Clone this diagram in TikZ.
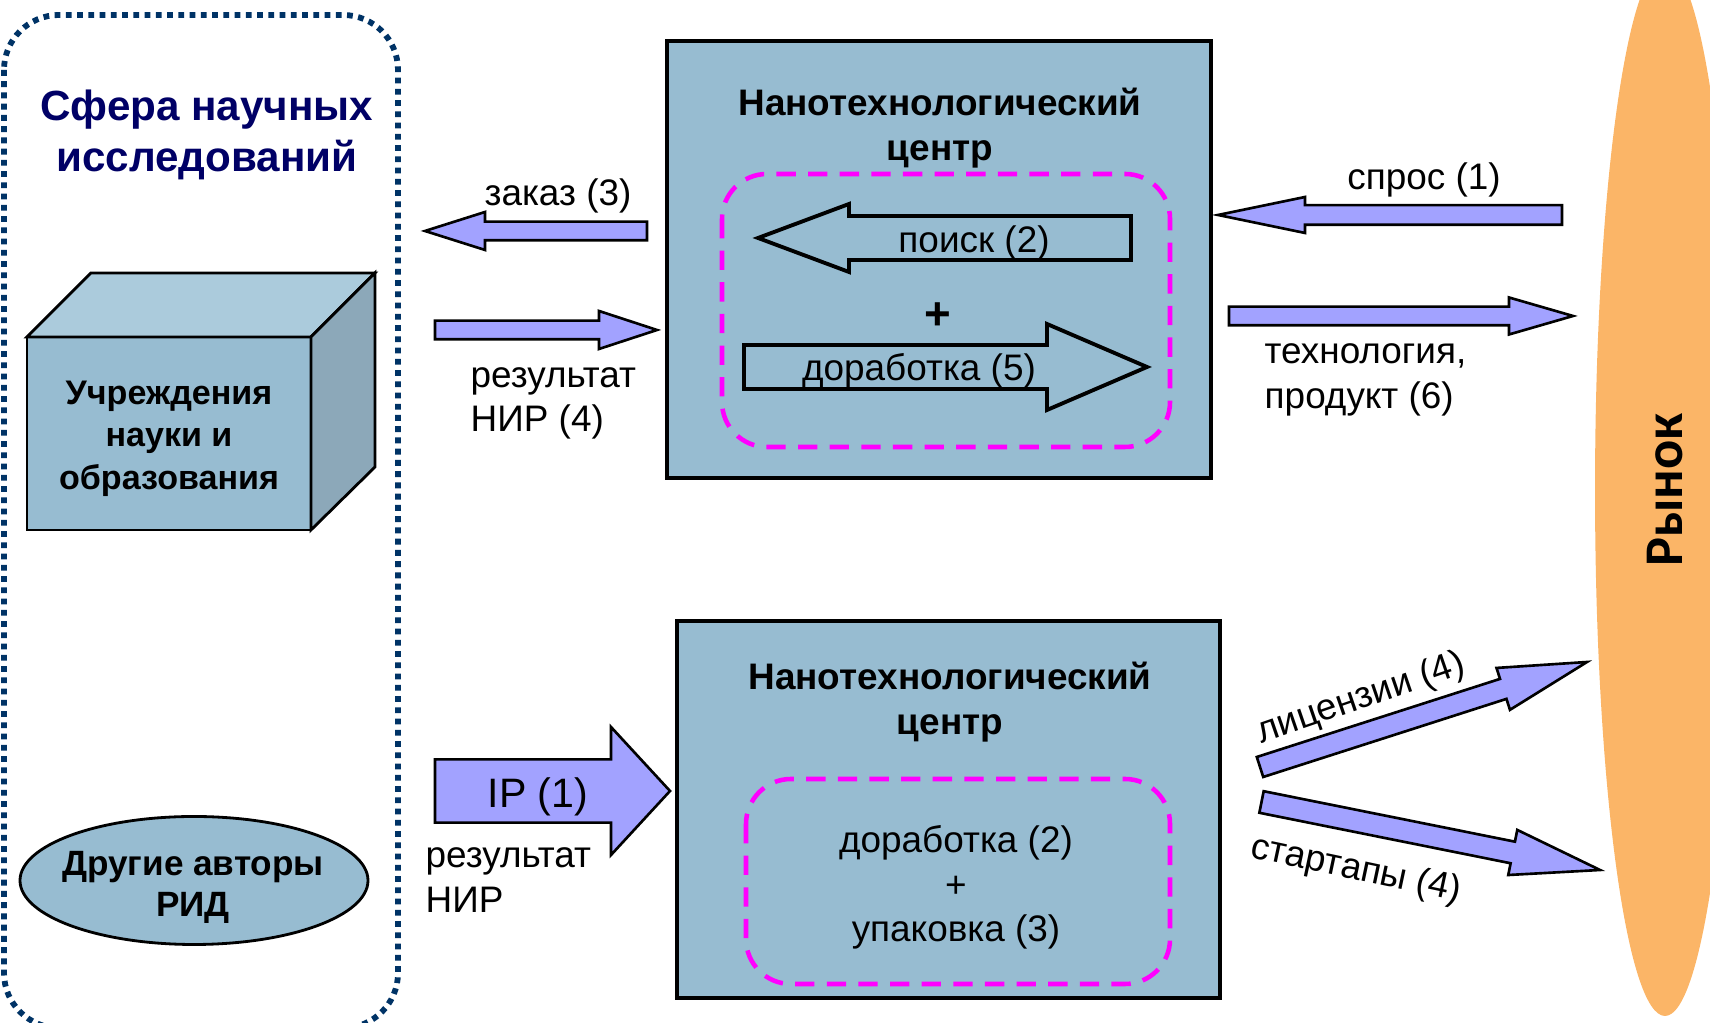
\documentclass[tikz,border=0pt]{standalone}
\usepackage{fontspec}
\setmainfont{Liberation Sans}
\newfontfamily\rynokfont{Carlito}
\usepackage{tikz}
\usetikzlibrary{shapes,calc}

\definecolor{boxblue}{RGB}{151,188,209}
\definecolor{cubetop}{RGB}{171,203,220}
\definecolor{cubeside}{RGB}{140,168,185}
\definecolor{arrowblue}{RGB}{162,162,255}
\definecolor{rynokorange}{RGB}{251,181,103}
\definecolor{sferablue}{RGB}{0,51,102}
\definecolor{titleblue}{RGB}{0,0,102}
\definecolor{pinkline}{RGB}{255,0,255}

\tikzset{
  sferaline/.style={draw=sferablue, line width=1.65pt, dash pattern=on 1.65pt off 1.55pt, rounded corners=5.5mm},
  nanobox/.style={draw=black, line width=1pt, fill=boxblue, inner sep=0pt},
  pinkbox/.style={draw=pinkline, line width=1.3pt, dash pattern=on 5.5pt off 3.5pt, rounded corners=4.5mm},
  flow/.style={draw=black, line width=0.75pt, fill=arrowblue},
  hollow/.style={draw=black, line width=1.1pt},
  txt/.style={font=\fontsize{10.5}{12.6}\selectfont, inner sep=0pt},
  btxt/.style={font=\fontsize{10.5}{12.7}\selectfont\bfseries, inner sep=0pt, align=center},
}

% block arrow: style, tail, tip, half shaft, half head, head length
\newcommand{\blockarrow}[6]{
  \coordinate (#2-base) at ($(#3)!#6!(#2)$);
  \draw [#1] ($(#2)!#4!90:(#3)$) -- ($(#2-base)!#4!90:(#3)$) -- ($(#2-base)!#5!90:(#3)$) -- (#3)
    -- ($(#2-base)!#5!-90:(#3)$) -- ($(#2-base)!#4!-90:(#3)$) -- ($(#2)!#4!-90:(#3)$) -- cycle;
}

\begin{document}
\begin{tikzpicture}

\useasboundingbox (0,0) rectangle (17.1,10.23);
\clip (0,0) rectangle (17.1,10.23);

 \draw [sferaline] (0.04,10.08) rectangle (3.98,-0.05);

\node at (2.07, 8.88)[font=\fontsize{12}{14.3}\selectfont\bfseries, text=titleblue, align=center, inner sep=0pt] (sfera) {Сфера научных\\исследований};

 \filldraw [fill=boxblue, draw=black, line width=0.8pt] (0.27,6.86) rectangle (3.11,4.93);
 \filldraw [fill=cubetop, draw=black, line width=0.8pt] (0.27,6.86) -- (0.91,7.50) -- (3.75,7.50) -- (3.11,6.86) -- cycle;
 \filldraw [fill=cubeside, draw=black, line width=0.8pt] (3.11,6.86) -- (3.75,7.50) -- (3.75,5.56) -- (3.11,4.93) -- cycle;

         \node at (1.69, 5.845)[font=\fontsize{9.7}{12.1}\selectfont\bfseries, align=center, inner sep=0pt] (uchr) {Учреждения\\науки и\\образования};

         \node at (1.94, 1.425)[ellipse, draw=black, line width=0.8pt, fill=boxblue, minimum width=3.48cm, minimum height=1.28cm, inner sep=0pt] (avtory) {};
         \node at (1.93, 1.355)[font=\fontsize{10}{11.8}\selectfont\bfseries, align=center, inner sep=0pt] (avtoryt) {Другие авторы\\РИД};

\node at (16.65, 5.33)[ellipse, fill=rynokorange, minimum width=10.52cm, minimum height=1.4cm, rotate=90, inner sep=0pt,
   font=\rynokfont\fontsize{15.5}{18}\selectfont\bfseries] (rynok) {Рынок};

 % upper centre
\node at (9.39, 7.635)[nanobox, minimum width=5.44cm, minimum height=4.37cm] (centr1) {};
\node at (9.40, 8.95)[btxt] (centr1t) {Нанотехнологический\\центр};
 \draw [pinkbox] (7.22,8.49) rectangle (11.70,5.76);

\coordinate (poisk-a) at (11.31,7.85);
\coordinate (poisk-b) at (7.58,7.85);
\blockarrow{hollow}{poisk-a}{poisk-b}{2.2mm}{3.4mm}{9.1mm}
\node at (9.74, 7.80)[txt] (poiskt) {поиск (2)};

\node at (9.38, 7.07)[font=\fontsize{13}{15}\selectfont\bfseries, inner sep=0pt] (plus1) {+};

\coordinate (dorab-a) at (7.44,6.56);
\coordinate (dorab-b) at (11.47,6.56);
\blockarrow{hollow}{dorab-a}{dorab-b}{2.2mm}{4.3mm}{10mm}
\node at (9.19, 6.52)[txt] (dorabt) {доработка (5)};

 % lower centre
\node at (9.485, 2.135)[nanobox, minimum width=5.43cm, minimum height=3.77cm] (centr2) {};
\node at (9.50, 3.21)[btxt] (centr2t) {Нанотехнологический\\центр};
 \draw [pinkbox] (7.46,2.44) rectangle (11.70,0.39);
\node at (9.56, 1.355)[txt, align=center] (upak) {доработка (2)\\+\\упаковка (3)};

 % flows
\coordinate (zakaz-a) at (6.47,7.92);
\coordinate (zakaz-b) at (4.25,7.92);
\blockarrow{flow}{zakaz-a}{zakaz-b}{0.93mm}{1.9mm}{6mm}
          \node at (5.58, 8.27)[txt] (zakazt) {заказ (3)};

\coordinate (rez-a) at (4.35,6.93);
\coordinate (rez-b) at (6.57,6.93);
\blockarrow{flow}{rez-a}{rez-b}{0.93mm}{1.9mm}{5.8mm}
          \node at (4.70, 6.195)[txt, anchor=west, align=left] (rezt) {результат\\НИР (4)};

\coordinate (spros-a) at (15.62,8.08);
\coordinate (spros-b) at (12.18,8.08);
\blockarrow{flow}{spros-a}{spros-b}{0.98mm}{1.8mm}{8.7mm}
          \node at (14.24, 8.43)[txt] (sprost) {спрос (1)};

\coordinate (tech-a) at (12.29,7.07);
\coordinate (tech-b) at (15.73,7.07);
\blockarrow{flow}{tech-a}{tech-b}{0.93mm}{1.85mm}{6.4mm}
          \node at (12.64, 6.43)[txt, anchor=west, align=left] (techt) {технология,\\продукт (6)};

\coordinate (ip-a) at (4.35,2.32);
\coordinate (ip-b) at (6.70,2.32);
\blockarrow{flow}{ip-a}{ip-b}{3.16mm}{6.4mm}{5.9mm}
          \node at (5.38, 2.26)[font=\fontsize{11.7}{14}\selectfont, inner sep=0pt] (ipt) {IP (1)};
          \node at (4.25, 1.43)[txt, anchor=west, align=left] (nirt) {результат\\НИР};

\coordinate (lic-a) at (12.60,2.56);
\coordinate (lic-b) at (15.87,3.61);
\blockarrow{flow}{lic-a}{lic-b}{1.05mm}{2.2mm}{8.8mm}
          \node at (13.61, 3.24)[txt, rotate=19] (lict) {лицензии (4)};

\coordinate (start-a) at (12.615,2.21);
\coordinate (start-b) at (16.00,1.53);
\blockarrow{flow}{start-a}{start-b}{1.1mm}{2.3mm}{8.9mm}
          \node at (13.56, 1.53)[txt, rotate=-12] (startt) {стартапы (4)};

\end{tikzpicture}
\end{document}
